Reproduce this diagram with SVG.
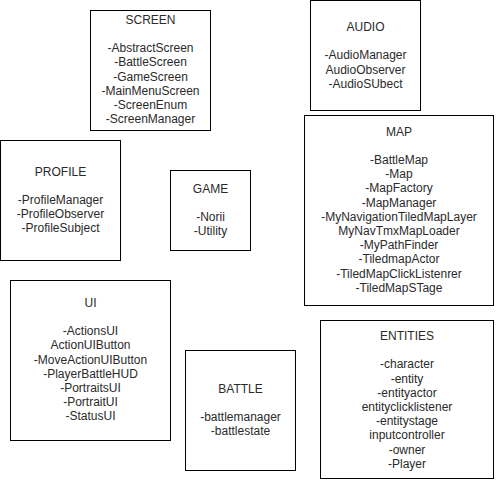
<svg xmlns="http://www.w3.org/2000/svg" width="496" height="481" viewBox="0 0 496 481">
<style>
rect{fill:#fff;stroke:#000;stroke-width:1}
text{font-family:"Liberation Sans",Arial,Helvetica,sans-serif;font-size:12px;fill:#2a2a2a;text-anchor:middle}
</style>
<rect x="0" y="0" width="496" height="481" style="stroke:none"/>
<g id="connectors"/>
<g id="screen">
<rect x="90.5" y="10.5" width="120" height="120"/>
<text x="150.5" y="23.8">SCREEN<tspan x="150.5" dy="28.4">-AbstractScreen</tspan><tspan x="150.5" dy="14.2">-BattleScreen</tspan><tspan x="150.5" dy="14.2">-GameScreen</tspan><tspan x="150.5" dy="14.2">-MainMenuScreen</tspan><tspan x="150.5" dy="14.2">-ScreenEnum</tspan><tspan x="150.5" dy="14.2">-ScreenManager</tspan></text>
</g>
<g id="audio">
<rect x="310.5" y="0.5" width="110" height="110"/>
<text x="365.5" y="31">AUDIO<tspan x="365.5" dy="28.4">-AudioManager</tspan><tspan x="365.5" dy="14.2">AudioObserver</tspan><tspan x="365.5" dy="14.2">-AudioSUbect</tspan></text>
</g>
<g id="profile">
<rect x="0.5" y="140.5" width="120" height="120"/>
<text x="60.5" y="175.6">PROFILE<tspan x="60.5" dy="28.4">-ProfileManager</tspan><tspan x="60.5" dy="14.2">-ProfileObserver</tspan><tspan x="60.5" dy="14.2">-ProfileSubject</tspan></text>
</g>
<g id="game">
<rect x="170.5" y="170.5" width="80" height="80"/>
<text x="210.5" y="192.8">GAME<tspan x="210.5" dy="28.4">-Norii</tspan><tspan x="210.5" dy="14.2">-Utility</tspan></text>
</g>
<g id="map">
<rect x="304.5" y="115.5" width="189" height="190"/>
<text x="399" y="135.5">MAP<tspan x="399" dy="28.4">-BattleMap</tspan><tspan x="399" dy="14.2">-Map</tspan><tspan x="399" dy="14.2">-MapFactory</tspan><tspan x="399" dy="14.2">-MapManager</tspan><tspan x="399" dy="14.2">-MyNavigationTiledMapLayer</tspan><tspan x="399" dy="14.2">MyNavTmxMapLoader</tspan><tspan x="399" dy="14.2">-MyPathFinder</tspan><tspan x="399" dy="14.2">-TiledmapActor</tspan><tspan x="399" dy="14.2">-TiledMapClickListenrer</tspan><tspan x="399" dy="14.2">-TiledMapSTage</tspan></text>
</g>
<g id="ui">
<rect x="10.5" y="280.5" width="160" height="160"/>
<text x="90.5" y="306.8">UI<tspan x="90.5" dy="28.4">-ActionsUI</tspan><tspan x="90.5" dy="14.2">ActionUIButton</tspan><tspan x="90.5" dy="14.2">-MoveActionUIButton</tspan><tspan x="90.5" dy="14.2">-PlayerBattleHUD</tspan><tspan x="90.5" dy="14.2">-PortraitsUI</tspan><tspan x="90.5" dy="14.2">-PortraitUI</tspan><tspan x="90.5" dy="14.2">-StatusUI</tspan></text>
</g>
<g id="battle">
<rect x="185.5" y="350.5" width="110" height="120"/>
<text x="240.5" y="392.8">BATTLE<tspan x="240.5" dy="28.4">-battlemanager</tspan><tspan x="240.5" dy="14.2">-battlestate</tspan></text>
</g>
<g id="entities">
<rect x="320.5" y="320.5" width="173" height="158"/>
<text x="407" y="340">ENTITIES<tspan x="407" dy="28.4">-character</tspan><tspan x="407" dy="14.2">-entity</tspan><tspan x="407" dy="14.2">-entityactor</tspan><tspan x="407" dy="14.2">entityclicklistener</tspan><tspan x="407" dy="14.2">-entitystage</tspan><tspan x="407" dy="14.2">inputcontroller</tspan><tspan x="407" dy="14.2">-owner</tspan><tspan x="407" dy="14.2">-Player</tspan></text>
</g>
</svg>
